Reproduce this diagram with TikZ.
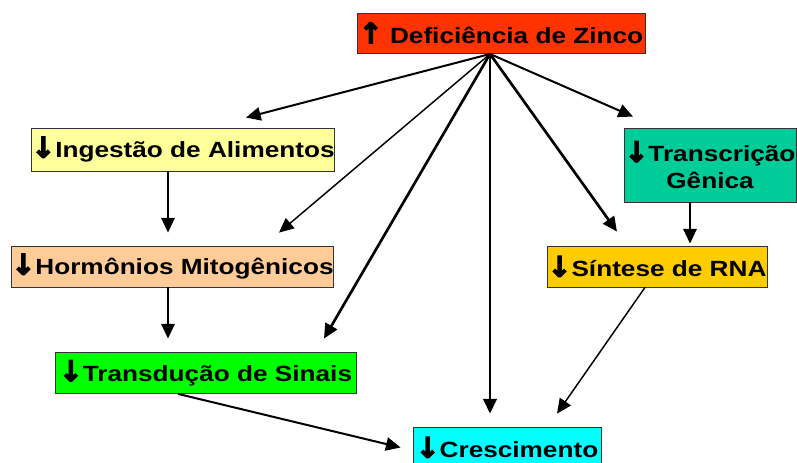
\documentclass[tikz,border=0pt]{standalone}
\usepackage{fontspec}
\newfontfamily\boxfont{Liberation Sans}[FakeStretch=1.19]
\newfontfamily\arrfont{DejaVu Sans Bold}[FakeBold=4,Scale=1.3]
\usetikzlibrary{arrows.meta,calc}
\definecolor{cTop}{HTML}{FF3300}
\definecolor{cIng}{HTML}{FFFF99}
\definecolor{cHor}{HTML}{FFCC99}
\definecolor{cTrd}{HTML}{00FF00}
\definecolor{cTrc}{HTML}{00CC99}
\definecolor{cSin}{HTML}{FFCC00}
\definecolor{cCre}{HTML}{00FFFF}
\newcommand{\dn}{{\arrfont ↓}}
\newcommand{\upar}{{\arrfont ↑}}
\begin{document}
\begin{tikzpicture}[x=0.75pt,y=-0.75pt,
  box/.style={draw=black!80, line width=0.6pt, inner sep=0pt, align=center,
    font=\boxfont\bfseries\fontsize{16.5}{20}\selectfont},
  conn/.style={-{Triangle[length=11pt,width=10pt]}, line width=1.5pt},
  thinconn/.style={conn, line width=1.1pt},
  thickconn/.style={conn, line width=2pt}]
\useasboundingbox (0,0) rectangle (797,463);
\fill[white] (0,0) rectangle (797,463);

\node[box, fill=cTop, minimum width=216pt, minimum height=30pt] (top) at (501,33) {\upar\ Deficiência de Zinco};
\node[box, fill=cIng, minimum width=225pt, minimum height=32.25pt] (ing) at (183,149.5) {\dn Ingestão de Alimentos};
\node[box, fill=cHor, minimum width=240.75pt, minimum height=30.75pt] (hor) at (172.5,266.5) {\dn Hormônios Mitogênicos};
\node[box, fill=cTrd, minimum width=225.75pt, minimum height=30.75pt] (trd) at (205.5,373) {\dn Transdução de Sinais};
\node[box, fill=cTrc, minimum width=129pt, minimum height=55.5pt] (trc) at (710,165) {\dn Transcrição\\Gênica};
\node[box, fill=cSin, minimum width=165pt, minimum height=30.75pt] (sin) at (657,266.5) {\dn Síntese de RNA};
\node[box, fill=cCre, minimum width=141pt, minimum height=30.75pt] (cre) at (507,447.5) {\dn Crescimento};

\coordinate (hub) at (490,54);

\draw[conn] (hub) -- ($(ing.north)+(63,-10)$);
\draw[thinconn] (hub) -- ($(hor.north)+(106.5,-13)$);
\draw[thickconn] (hub) -- ($(trd.north)+(118.5,-13.5)$);
\draw[thickconn] (hub) -- ($(cre.north)+(-17,-13)$);
\draw[thickconn] (hub) -- ($(sin.north)+(-40,-14)$);
\draw[conn] (hub) -- ($(trc.north)+(-77,-11)$);

\draw[conn] ($(ing.south)+(-15,0)$) -- ($(hor.north)+(-4.5,-13)$);
\draw[conn] ($(hor.south)+(-4.5,0)$) -- ($(trd.north)+(-37.5,-13.5)$);
\draw[conn] ($(trc.south)+(-20,0)$) -- ($(sin.north)+(33,-2)$);
\draw[thinconn] ($(sin.south)+(-12,0)$) -- ($(cre.north)+(50,-13)$);
\draw[conn] ($(trd.south)+(-27.5,0)$) -- ($(cre.west)+(-12,0)$);
\end{tikzpicture}
\end{document}
